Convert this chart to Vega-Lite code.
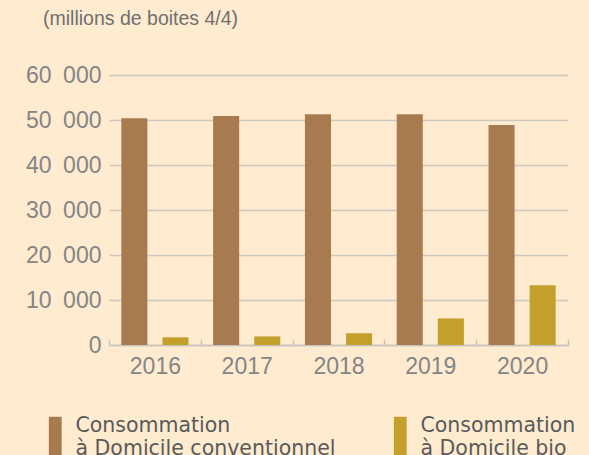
{
  "$schema": "https://vega.github.io/schema/vega-lite/v6.json",
  "width": 459,
  "height": 270,
  "autosize": "none",
  "padding": {"left": 109, "top": 75, "right": 21, "bottom": 110},
  "background": "#FEEBD0",
  "title": {
    "text": "(millions de boites 4/4)",
    "anchor": "start",
    "frame": "group",
    "dx": -66,
    "offset": 35,
    "font": "Liberation Sans",
    "fontSize": 19.5,
    "fontWeight": "normal",
    "color": "#707070"
  },
  "data": {
    "values": [
      {"year": "2016", "type": "conventionnel", "value": 50400},
      {"year": "2016", "type": "bio", "value": 1700},
      {"year": "2017", "type": "conventionnel", "value": 50900},
      {"year": "2017", "type": "bio", "value": 1900},
      {"year": "2018", "type": "conventionnel", "value": 51300},
      {"year": "2018", "type": "bio", "value": 2600},
      {"year": "2019", "type": "conventionnel", "value": 51300},
      {"year": "2019", "type": "bio", "value": 5900},
      {"year": "2020", "type": "conventionnel", "value": 48900},
      {"year": "2020", "type": "bio", "value": 13300}
    ]
  },
  "mark": {"type": "bar"},
  "encoding": {
    "x": {
      "field": "year",
      "type": "nominal",
      "scale": {"paddingInner": 0, "paddingOuter": 0},
      "axis": {
        "title": null,
        "labelAngle": 0,
        "labelFont": "Liberation Sans",
        "labelFontSize": 23,
        "labelColor": "#858585",
        "labelPadding": 16,
        "tickSize": -6,
        "tickBand": "extent",
        "tickColor": "#c8c4c0",
        "tickWidth": 1.5,
        "domainColor": "#c8c4c0",
        "domainWidth": 1.5,
        "grid": false
      }
    },
    "xOffset": {
      "field": "type",
      "type": "nominal",
      "scale": {"domain": ["conventionnel", "bio"], "paddingInner": 0.366, "paddingOuter": 0.3}
    },
    "y": {
      "field": "value",
      "type": "quantitative",
      "scale": {"domain": [0, 60000]},
      "axis": {
        "title": null,
        "values": [0, 10000, 20000, 30000, 40000, 50000, 60000],
        "labelExpr": "replace(format(datum.value, ','), ',', '\u2002')",
        "labelFont": "Liberation Sans",
        "labelFontSize": 23,
        "labelColor": "#858585",
        "labelPadding": 8,
        "ticks": false,
        "domain": false,
        "grid": true,
        "gridColor": "#cdc8c0",
        "gridWidth": 1.3
      }
    },
    "color": {
      "field": "type",
      "type": "nominal",
      "scale": {"domain": ["conventionnel", "bio"], "range": ["#A87A4F", "#C3A02C"]},
      "legend": {
        "title": null,
        "orient": "none",
        "legendX": -64,
        "legendY": 341,
        "direction": "horizontal",
        "columns": 2,
        "columnPadding": 54,
        "padding": 0,
        "symbolType": "M-1,-1.5H1V5.7H-1Z",
        "symbolSize": 164,
        "symbolStrokeWidth": 0,
        "symbolOpacity": 1,
        "labelOffset": 10,
        "labelFont": "DejaVu Sans",
        "labelFontSize": 20.5,
        "labelLineHeight": 20.5,
        "labelColor": "#5a5a5a",
        "labelLimit": 400,
        "labelExpr": "datum.label == 'conventionnel' ? ['Consommation', 'à Domicile conventionnel'] : ['Consommation', 'à Domicile bio']"
      }
    }
  },
  "config": {"view": {"stroke": null}}
}
